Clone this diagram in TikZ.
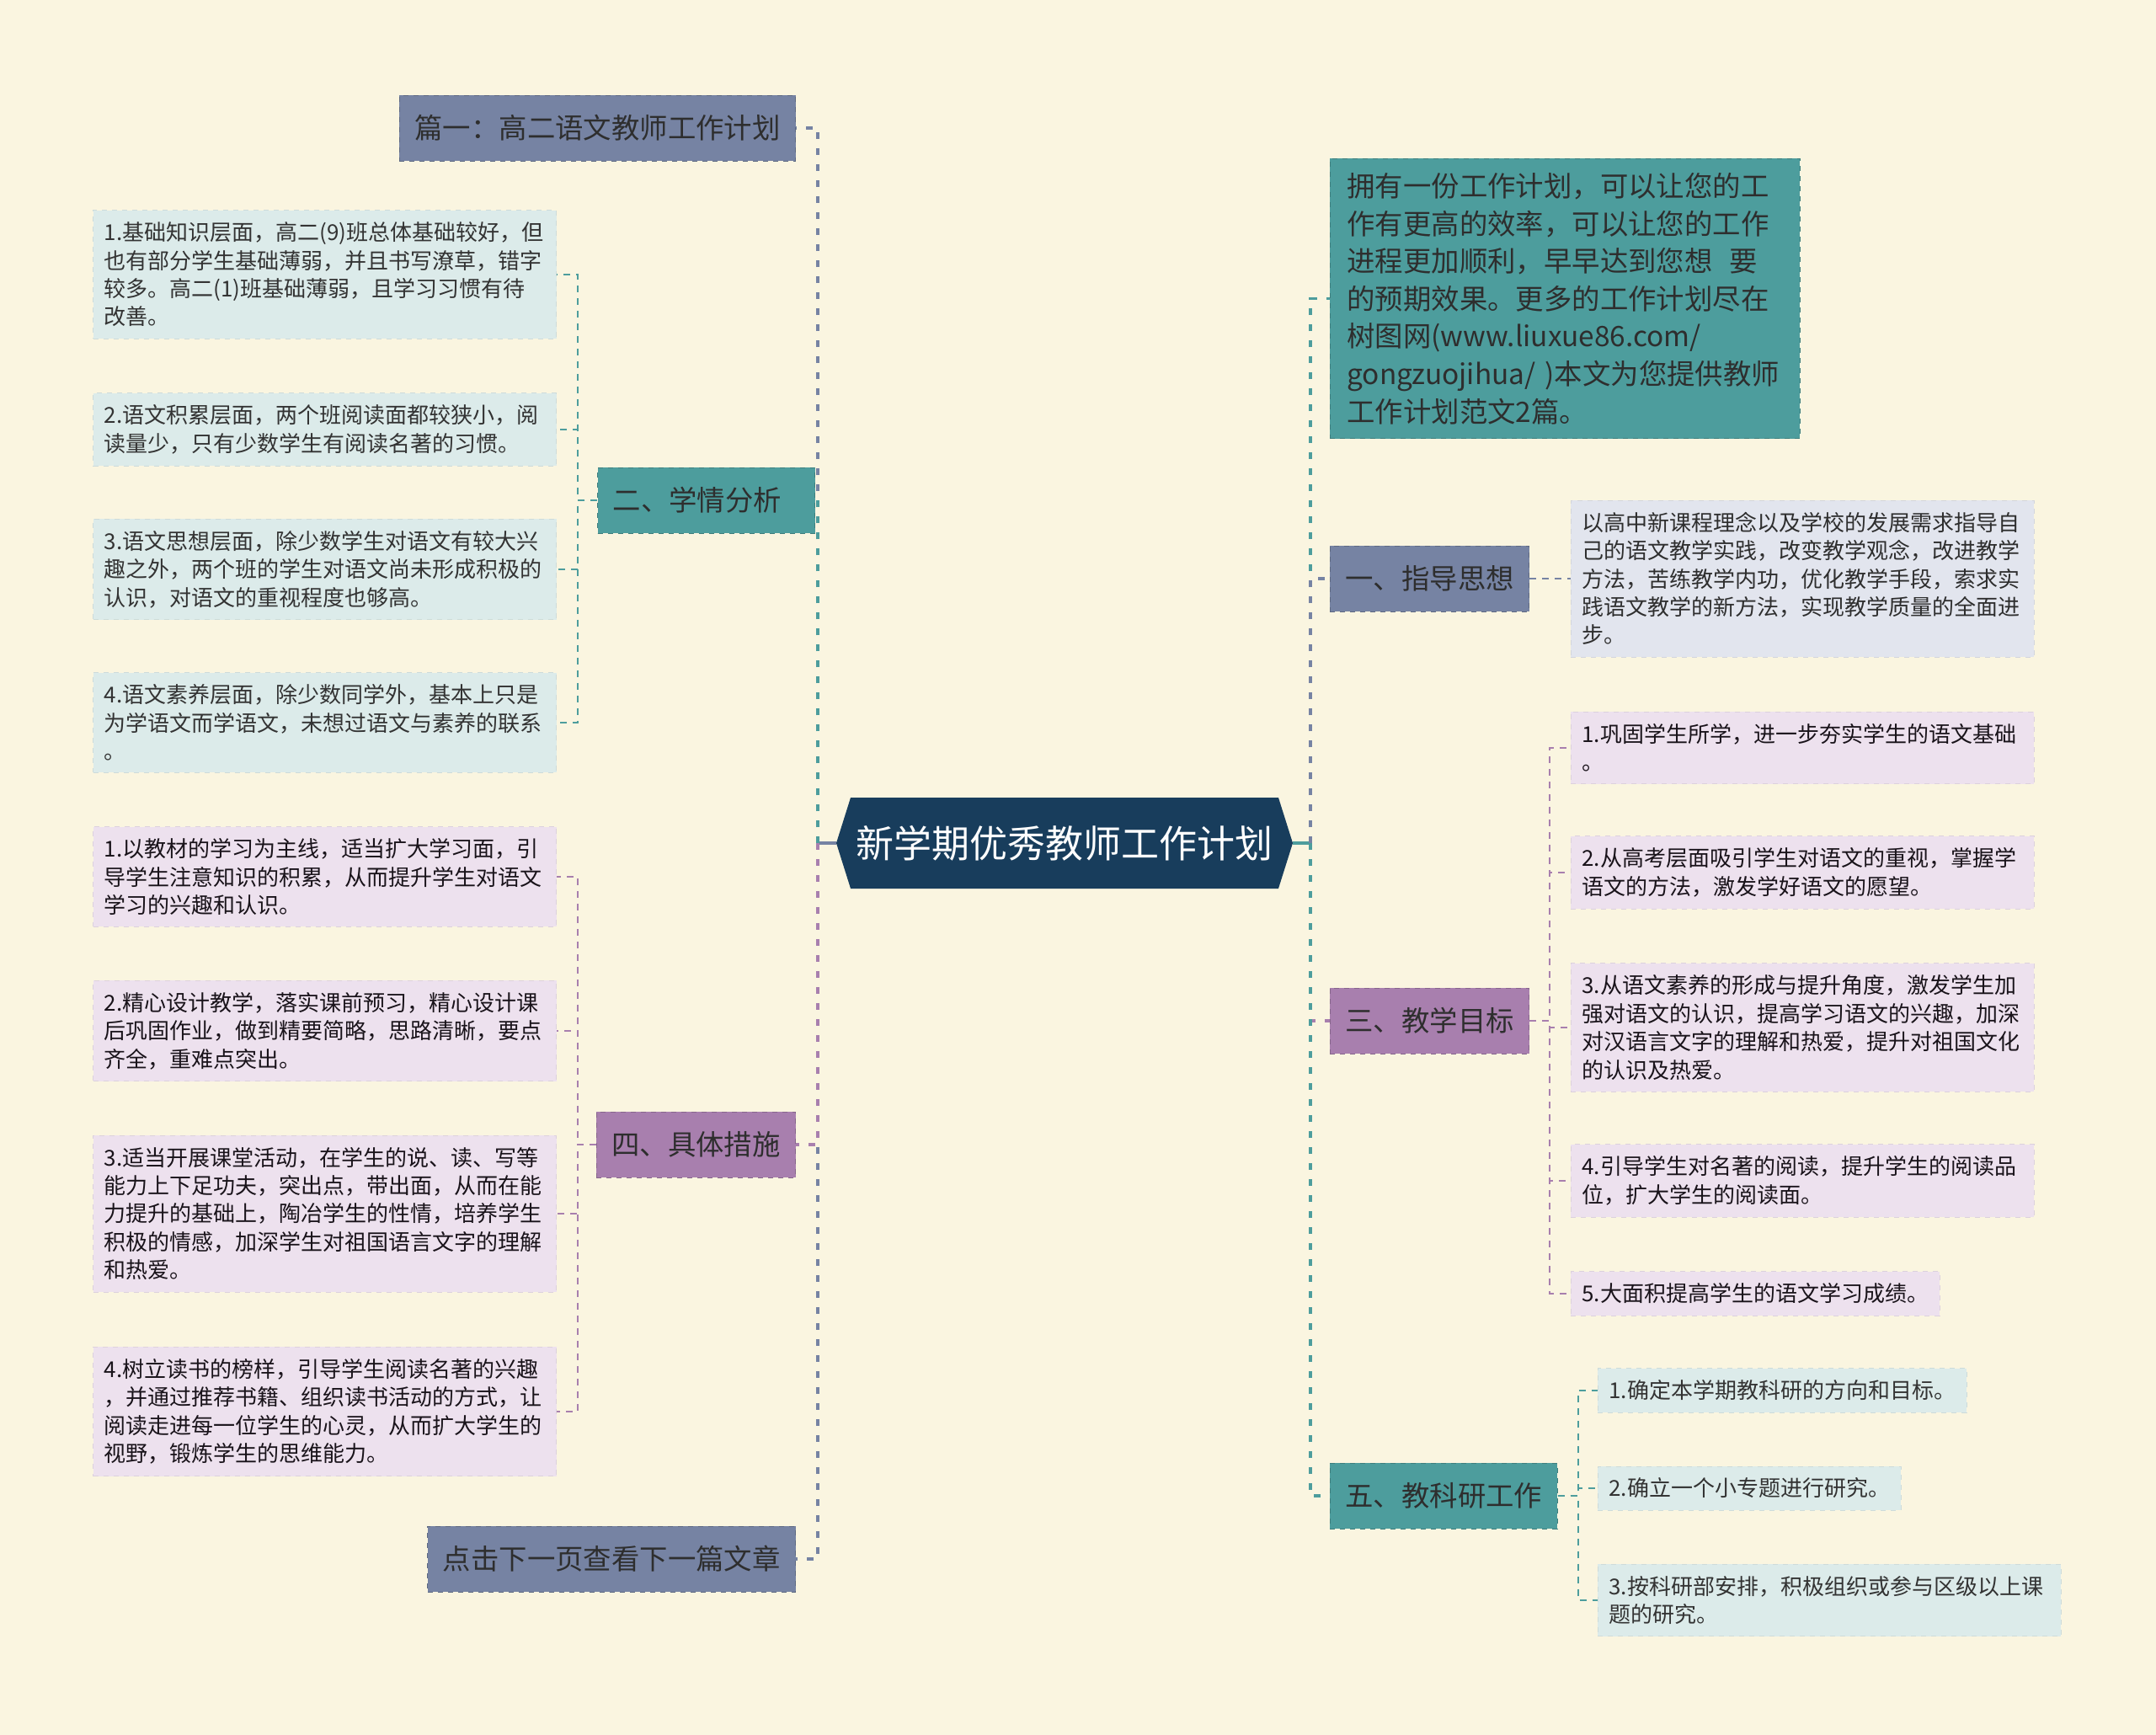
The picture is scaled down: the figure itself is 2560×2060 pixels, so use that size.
\documentclass[tikz,border=0pt]{standalone}
\usepackage{fontspec}
\setmainfont{Noto Sans CJK SC}
\usepackage{tikz}
\usetikzlibrary{shapes}
\definecolor{fondo}{HTML}{FAF5E0}
\definecolor{raizc}{HTML}{183D5C}
\definecolor{pizarra}{HTML}{7683A3}
\definecolor{verde}{HTML}{4D9D9D}
\definecolor{lila}{HTML}{A87FAE}
\definecolor{hojaazul}{HTML}{DCEBEA}
\definecolor{hojalila}{HTML}{EDE1EE}
\definecolor{hojagris}{HTML}{E2E5EE}
\tikzset{root/.style={shape=signal, signal to=west and east, signal pointer angle=145, fill=raizc, text=white, minimum width=271pt, minimum height=54pt, inner sep=0pt, font=\fontsize{22.5}{27}\selectfont}}
\tikzset{branch/.style={draw=#1!80!black, dashed, fill=#1, minimum height=39pt, inner xsep=9pt, inner ysep=4pt, align=left, text=black!82, font=\fontsize{16.7}{22.3}\selectfont}}
\tikzset{leaf/.style={draw=#1!93!black, dashed, fill=#1, inner xsep=6.5pt, inner ysep=7pt, align=left, font=\fontsize{13}{16.7}\selectfont}}
\tikzset{leafA/.style={leaf=hojaazul, text=black!80}}
\tikzset{leafB/.style={leaf=hojalila, text=black!75!lila!60!black}}
\tikzset{leafC/.style={leaf=hojagris, text=black!82}}
\tikzset{trunk/.style={draw=#1, line width=1.6pt, dash pattern=on 4pt off 5.5pt}}
\tikzset{link/.style={draw=#1, line width=0.9pt, dash pattern=on 4pt off 3.5pt}}

\begin{document}
\begin{tikzpicture}[x=0.5pt, y=-0.5pt]
  \fill[fondo] (0,0) rectangle (2560,2060);

  % Nodo central
  \node[root] (raiz) at (1264,1001) {新学期优秀教师工作计划};

  % Rama izquierda
  \node[branch=pizarra, anchor=east] (pian) at (945,152) {篇一：高二语文教师工作计划};
  \node[branch=verde, anchor=east, text width=111pt] (xueqing) at (968,594) {二、学情分析};
  \node[branch=lila, anchor=east] (cuoshi) at (945,1359) {四、具体措施};
  \node[branch=pizarra, anchor=east] (next) at (945,1851) {点击下一页查看下一篇文章};

  % Hojas de xueqing
  \node[leafA, anchor=east, text width=262pt] (xq1) at (661,326) {1.基础知识层面，高二(9)班总体基础较好，但\\也有部分学生基础薄弱，并且书写潦草，错字\\较多。高二(1)班基础薄弱，且学习习惯有待\\改善。};
  \node[leafA, anchor=east, text width=262pt] (xq2) at (661,510) {2.语文积累层面，两个班阅读面都较狭小，阅\\读量少，只有少数学生有阅读名著的习惯。};
  \node[leafA, anchor=east, text width=262pt] (xq3) at (661,676) {3.语文思想层面，除少数学生对语文有较大兴\\趣之外，两个班的学生对语文尚未形成积极的\\认识，对语文的重视程度也够高。};
  \node[leafA, anchor=east, text width=262pt] (xq4) at (661,858) {4.语文素养层面，除少数同学外，基本上只是\\为学语文而学语文，未想过语文与素养的联系\\。};

  % Hojas de cuoshi
  \node[leafB, anchor=east, text width=262pt] (cs1) at (661,1041) {1.以教材的学习为主线，适当扩大学习面，引\\导学生注意知识的积累，从而提升学生对语文\\学习的兴趣和认识。};
  \node[leafB, anchor=east, text width=262pt] (cs2) at (661,1224) {2.精心设计教学，落实课前预习，精心设计课\\后巩固作业，做到精要简略，思路清晰，要点\\齐全，重难点突出。};
  \node[leafB, anchor=east, text width=262pt] (cs3) at (661,1441) {3.适当开展课堂活动，在学生的说、读、写等\\能力上下足功夫，突出点，带出面，从而在能\\力提升的基础上，陶冶学生的性情，培养学生\\积极的情感，加深学生对祖国语言文字的理解\\和热爱。};
  \node[leafB, anchor=east, text width=262pt] (cs4) at (661,1676) {4.树立读书的榜样，引导学生阅读名著的兴趣\\，并通过推荐书籍、组织读书活动的方式，让\\阅读走进每一位学生的心灵，从而扩大学生的\\视野，锻炼学生的思维能力。};

  % Rama derecha
  \node[branch=verde, anchor=north west, text width=259pt, inner xsep=10pt, inner ysep=8.5pt] (intro) at (1579,188) {拥有一份工作计划，可以让您的工\\作有更高的效率，可以让您的工作\\进程更加顺利，早早达到您想\hspace{0.6em}要\\的预期效果。更多的工作计划尽在\\树图网(www.liuxue86.com/\\gongzuojihua/ )本文为您提供教师\\工作计划范文2篇。};
  \node[branch=pizarra, anchor=west] (zhidao) at (1579,687) {一、指导思想};
  \node[branch=lila, anchor=west] (mubiao) at (1579,1212) {三、教学目标};
  \node[branch=verde, anchor=west] (keyan) at (1579,1776) {五、教科研工作};

  % Hojas de zhidao y mubiao
  \node[leafC, anchor=west, text width=262pt] (zd1) at (1865,687) {以高中新课程理念以及学校的发展需求指导自\\己的语文教学实践，改变教学观念，改进教学\\方法，苦练教学内功，优化教学手段，索求实\\践语文教学的新方法，实现教学质量的全面进\\步。};
  \node[leafB, anchor=west, text width=262pt] (mb1) at (1865,888) {1.巩固学生所学，进一步夯实学生的语文基础\\。};
  \node[leafB, anchor=west, text width=262pt] (mb2) at (1865,1036) {2.从高考层面吸引学生对语文的重视，掌握学\\语文的方法，激发学好语文的愿望。};
  \node[leafB, anchor=west, text width=262pt] (mb3) at (1865,1220) {3.从语文素养的形成与提升角度，激发学生加\\强对语文的认识，提高学习语文的兴趣，加深\\对汉语言文字的理解和热爱，提升对祖国文化\\的认识及热爱。};
  \node[leafB, anchor=west, text width=262pt] (mb4) at (1865,1402) {4.引导学生对名著的阅读，提升学生的阅读品\\位，扩大学生的阅读面。};
  \node[leafB, anchor=west] (mb5) at (1865,1536) {5.大面积提高学生的语文学习成绩。};

  % Hojas de keyan
  \node[leafA, anchor=west] (ky1) at (1897,1651) {1.确定本学期教科研的方向和目标。};
  \node[leafA, anchor=west] (ky2) at (1897,1767) {2.确立一个小专题进行研究。};
  \node[leafA, anchor=west, text width=262pt] (ky3) at (1897,1900) {3.按科研部安排，积极组织或参与区级以上课\\题的研究。};

  % Conectores principales
  \coordinate (izq) at (971,1001);
  \coordinate (der) at (1556,1001);
  \draw[pizarra, line width=1.8pt] (raiz.west) -- (izq);
  \draw[verde, line width=1.8pt] (raiz.east) -- (der);
  \draw[trunk=pizarra] (izq) |- (pian.east);
  \draw[trunk=pizarra] (izq) |- (next.east);
  \draw[trunk=verde] (izq) |- (xueqing.east);
  \draw[trunk=lila] (izq) |- (cuoshi.east);
  \draw[trunk=verde] (der) |- (intro.west);
  \draw[trunk=pizarra] (der) |- (zhidao.west);
  \draw[trunk=lila] (der) |- (mubiao.west);
  \draw[trunk=verde] (der) |- (keyan.west);

  % Conectores de hojas
  \coordinate (jxq) at (686,594);
  \coordinate (jcs) at (686,1359);
  \coordinate (jmb) at (1840,1212);
  \coordinate (jky) at (1874,1776);
  \foreach \h in {xq1,xq2,xq3,xq4}
    \draw[link=verde] (xueqing.west) -- (jxq) |- (\h.east);
  \foreach \h in {cs1,cs2,cs3,cs4}
    \draw[link=lila] (cuoshi.west) -- (jcs) |- (\h.east);
  \draw[link=pizarra] (zhidao.east) -- (zd1.west);
  \foreach \h in {mb1,mb2,mb3,mb4,mb5}
    \draw[link=lila] (mubiao.east) -- (jmb) |- (\h.west);
  \foreach \h in {ky1,ky2,ky3}
    \draw[link=verde] (keyan.east) -- (jky) |- (\h.west);
\end{tikzpicture}
\end{document}
